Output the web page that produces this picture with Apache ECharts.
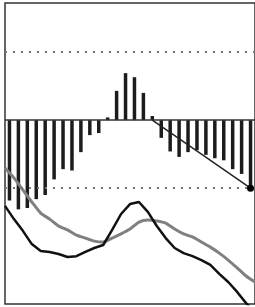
<!DOCTYPE html>
<html>
<head>
<meta charset="utf-8">
<script src="https://cdn.jsdelivr.net/npm/echarts@6/dist/echarts.min.js"></script>
<style>
html,body{margin:0;padding:0;background:#fff;}
#chart{width:255px;height:307px;}
</style>
</head>
<body>
<div id="chart"></div>
<script>
// histogram (28 bars)
var barCats = [];
for (var i = 1; i <= 28; i++) barCats.push(String(i));
var histValues = [-1.18, -1.31, -1.29, -1.16, -1.10, -0.87, -0.72, -0.74, -0.47, -0.22, -0.19, 0.04,
    0.43, 0.69, 0.63, 0.40, 0.06, -0.26, -0.46, -0.54, -0.47, -0.44, -0.51, -0.56, -0.59, -0.72, -0.79, -1.0];
// straight signal segment: starts at bar 17, ends at bar 28
var signalValues = [null, null, null, null, null, null, null, null, null, null, null, null,
    null, null, null, null, 0, null, null, null, null, null, null, null, null, null, null, -1.0];
var levelLines = [1, -1];

// lower lines (29 points across the frame)
var lineCats = [];
for (var j = 0; j < 29; j++) lineCats.push(String(j));
var blackValues = [32.6, 28.2, 24.3, 19.9, 17.6, 17.3, 16.6, 15.6, 15.9, 17.3, 18.6, 19.6, 24.6, 29.9,
    33.2, 33.9, 30.6, 25.9, 21.9, 18.6, 16.9, 15.9, 14.6, 13.0, 10.0, 7.3, 4.0, 0.3, -2.7];
var grayValues = [45.2, 41.9, 37.9, 33.9, 30.2, 28.2, 25.9, 24.6, 22.9, 21.9, 20.9, 20.6, 21.9, 23.3,
    24.9, 27.2, 27.9, 27.6, 26.9, 24.9, 23.3, 22.3, 20.6, 18.9, 16.9, 14.6, 12.0, 9.3, 7.3];

var myChart = echarts.init(document.getElementById('chart'));
// only the end point of the signal segment gets a dot
var signalData = signalValues.map(function(v, i){
    if (v === null) return v;
    return {value: v, symbolSize: i === signalValues.length - 1 ? 7 : 0};
});
var option = {
    animation: false,
    grid: {
        left: 5, top: 3, width: 251, height: 301,
        show: true,
        borderColor: '#333',
        borderWidth: 1.5
    },
    xAxis: [
        {type: 'category', data: barCats, boundaryGap: true, show: false},
        {type: 'category', data: lineCats, boundaryGap: false, show: false}
    ],
    yAxis: [
        {type: 'value', min: -2.7, max: 1.72, show: false, splitLine: {show: false}},
        {type: 'value', min: 0, max: 100, show: false, splitLine: {show: false}}
    ],
    series: [
        {
            type: 'bar',
            data: histValues,
            barWidth: 3.5,
            itemStyle: {color: '#1c1c1c'},
            markLine: {
                silent: true,
                symbol: 'none',
                label: {show: false},
                data: levelLines.map(function(v){
                    return {yAxis: v, lineStyle: {type: [2, 6], color: '#777', width: 2}};
                }).concat([{yAxis: 0, lineStyle: {type: 'solid', color: '#333', width: 1.5}}])
            }
        },
        {
            type: 'line',
            data: signalData,
            connectNulls: true,
            symbol: 'circle',
            showSymbol: true,
            showAllSymbol: true,
            clip: false,
            z: 5,
            lineStyle: {color: '#222', width: 1.5},
            itemStyle: {color: '#000'}
        },
        {
            type: 'line',
            xAxisIndex: 1,
            yAxisIndex: 1,
            data: grayValues,
            symbol: 'none',
            smooth: 0.2,
            lineStyle: {color: '#808080', width: 3}
        },
        {
            type: 'line',
            xAxisIndex: 1,
            yAxisIndex: 1,
            data: blackValues,
            symbol: 'none',
            lineStyle: {color: '#111', width: 2.5}
        }
    ]
};
myChart.setOption(option);
window.onresize = function(){
    myChart.resize();
};
</script>
</body>
</html>
